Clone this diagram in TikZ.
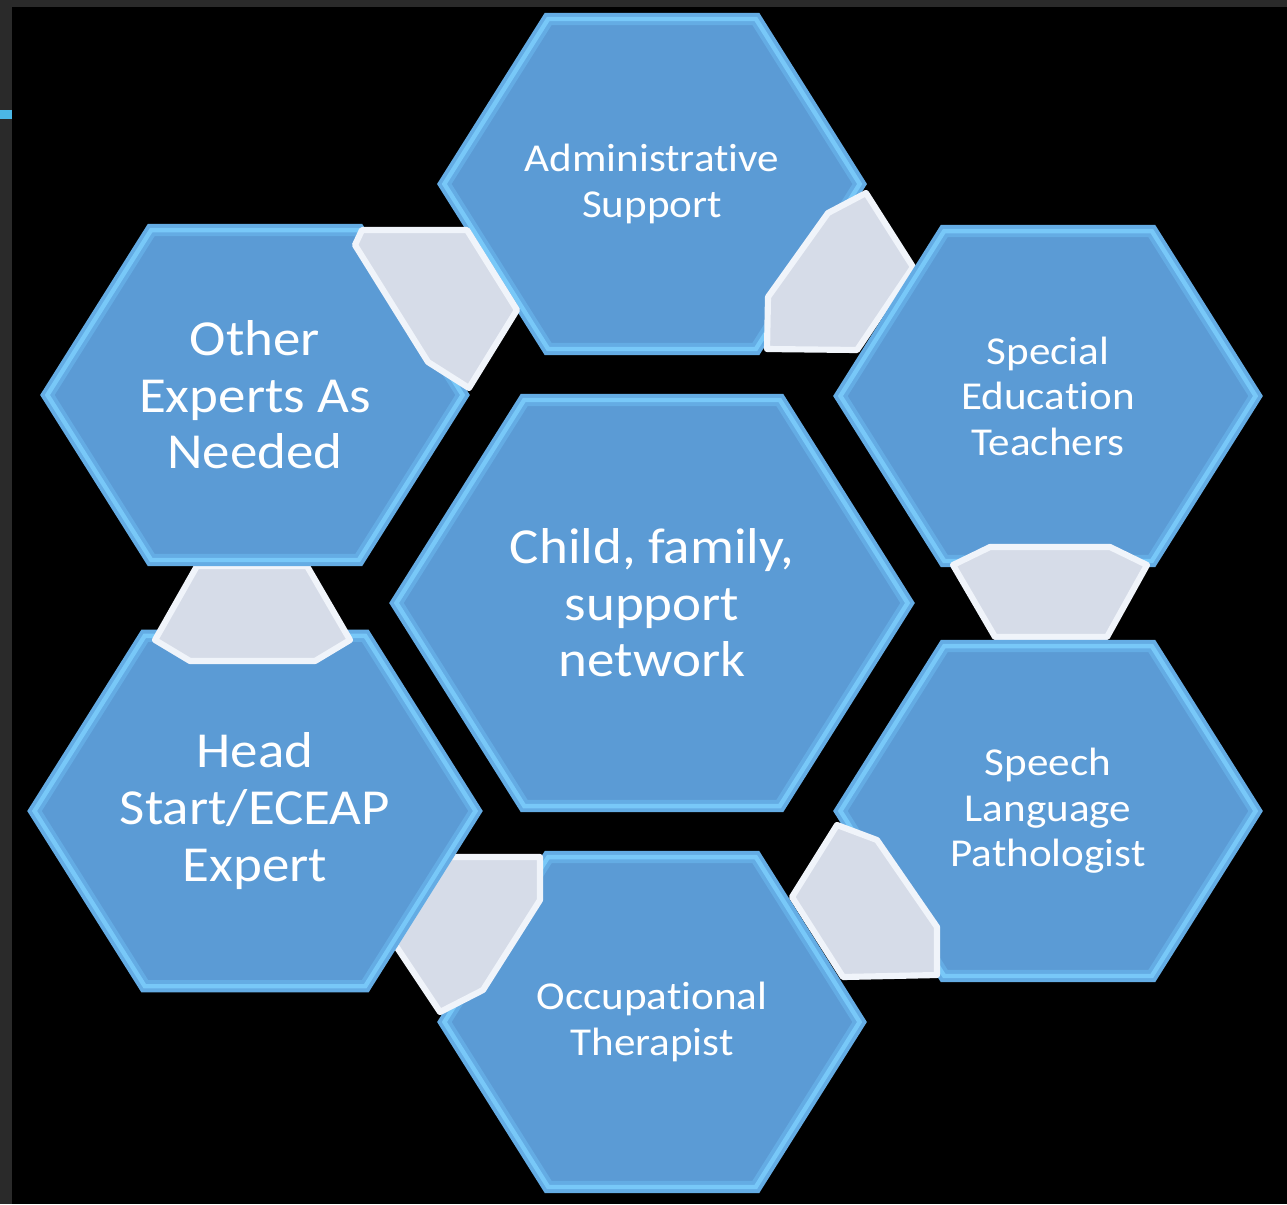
\documentclass[tikz,border=0pt]{standalone}
\usepackage{fontspec}
\setmainfont{Carlito}[Ligatures=NoCommon]
\usetikzlibrary{shapes.geometric}

\definecolor{hexblue}{HTML}{5B9BD5}
\definecolor{hexedge}{HTML}{64ACE4}
\definecolor{hexshine}{HTML}{78C8F8}
\definecolor{linkgrey}{HTML}{D6DCE8}
\definecolor{linkedge}{HTML}{F0F4FA}
\definecolor{framegrey}{HTML}{2A2A2A}
\definecolor{tabcyan}{HTML}{4BB7E6}

\begin{document}
\begin{tikzpicture}[
  x=0.02cm, y=-0.02cm,
  hexa/.style={regular polygon, regular polygon sides=6, xscale=1.09,
    minimum size=7.62cm, inner sep=0pt, fill=hexblue, draw=hexedge,
    line width=7pt, text=white, align=center,
    postaction={draw=hexshine, line width=2.5pt},
    font=\fontsize{22.5}{25.9}\selectfont},
  bigtext/.style={font=\fontsize{28.7}{32.2}\selectfont},
  hub/.style={hexa, bigtext, minimum size=9.38cm},
  link/.style={fill=linkgrey, draw=linkedge, line width=3.5pt, line join=round}
]
\useasboundingbox (0,0) rectangle (1287,1204);
\fill[framegrey] (0,0) rectangle (1287,1204);
\fill[black] (12,7) rectangle (1287,1204);
\fill[tabcyan] (0,110) rectangle (12,119);

\node[hub] (family) at (652,603) {Child, family,\\support\\network};

\node[hexa] (admin) at (652,184) {Administrative\\Support};
\filldraw[link] (828,213) -- (866,193) -- (913,267) -- (857,350) -- (767,349) -- (768,297) -- cycle;
\node[hexa] (special) at (1048,396) {Special\\Education\\Teachers};
\filldraw[link] (990,547) -- (1110,547) -- (1147,565) -- (1107,637) -- (995,637) -- (953,565) -- cycle;
\node[hexa] (speech) at (1048,811) {Speech\\Language\\Pathologist};
\filldraw[link] (837,825) -- (877,840) -- (937,927) -- (937,975) -- (843,977) -- (792,897) -- cycle;
\node[hexa] (occup) at (652,1022) {Occupational\\Therapist};
\filldraw[link] (442,857) -- (540,857) -- (540,900) -- (483,990) -- (440,1012) -- (392,940) -- cycle;
\node[hexa, bigtext] (headstart) at (255,811) {Head\\Start/ECEAP\\Expert};
\filldraw[link] (197,566) -- (307,566) -- (350,640) -- (315,661) -- (190,661) -- (155,640) -- cycle;
\node[hexa, bigtext] (experts) at (255,395) {Other\\Experts As\\Needed};
\filldraw[link] (362,230) -- (467,230) -- (517,310) -- (469,388) -- (428,362) -- (355,245) -- cycle;

\end{tikzpicture}
\end{document}
